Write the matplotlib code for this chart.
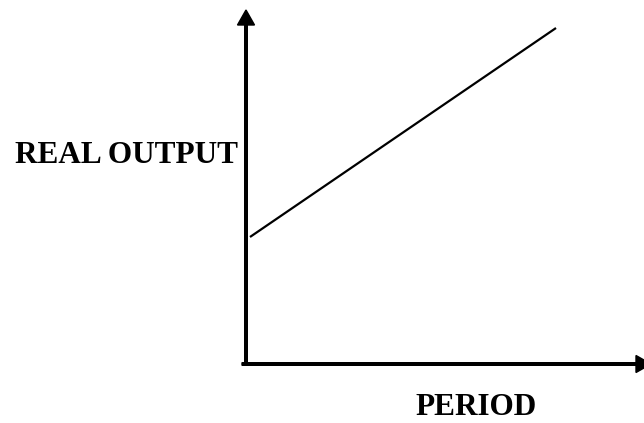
import matplotlib
matplotlib.use("Agg")
import matplotlib.pyplot as plt

# Schematic data (units = pixels from the origin of the diagram)
period = [4, 310]
real_output = [127, 336]

x_label = "PERIOD"
y_label = "REAL OUTPUT"

fig = plt.figure(figsize=(6.44, 4.23), dpi=100)
ax = fig.add_axes([0, 0, 1, 1])
ax.set_xlim(-246, 398)
ax.set_ylim(-59, 364)
ax.axis("off")

# axes with arrow heads
ax.arrow(0, -1, 0, 355, width=2.6, head_width=17, head_length=15,
         length_includes_head=True, color="black")
ax.arrow(-4, 0, 409, 0, width=2.6, head_width=17, head_length=15,
         length_includes_head=True, color="black")

# the line
ax.plot(period, real_output, color="black", lw=1.6, solid_capstyle="butt")

font = dict(family="Liberation Serif", weight="bold", size=22.5)
ax.text(-231, 201, y_label, ha="left", va="baseline", **font)
ax.text(169, -51, x_label, ha="left", va="baseline", **font)

fig.savefig("out.png", dpi=100)
